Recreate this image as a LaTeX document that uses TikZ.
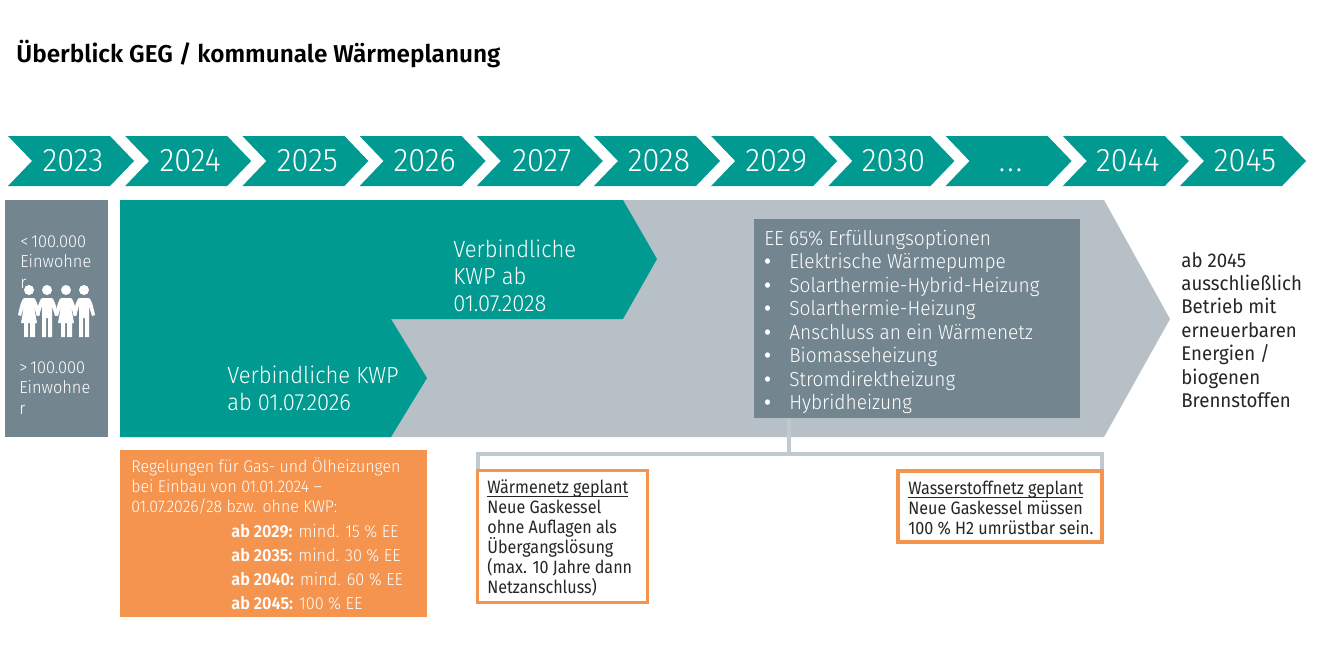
\documentclass[tikz,border=0pt]{standalone}
\usepackage{fontspec}
\setmainfont{Fira Sans}[UprightFont=* Light,BoldFont=* SemiBold,FakeStretch=0.94]
\newfontfamily\condfont{Fira Sans}[FakeStretch=0.9]
\newfontfamily\plainfont{Fira Sans}[FakeStretch=0.94]
\newfontfamily\titlefont{Fira Sans}[UprightFont=* SemiBold]
\usetikzlibrary{positioning}
\definecolor{kwpteal}{HTML}{009A90}
\definecolor{slate}{HTML}{73858F}
\definecolor{ashgrey}{HTML}{B7C0C6}
\definecolor{linkgrey}{HTML}{BFC9CE}
\definecolor{heatorange}{HTML}{F4944F}
\newcommand{\eeitem}[1]{\makebox[14.2pt][l]{\textbf{•}}#1}
\newcommand{\noteline}[1]{\underline{\smash{#1}}}
\def\gapdots{\vphantom{0}.\kern1.2pt.\kern1.2pt.}
\begin{document}
\begin{tikzpicture}[x=0.02cm,y=-0.02cm,
		yearlabel/.style={text=white,font=\fontsize{18.6}{20}\selectfont,inner sep=0pt},
		whitetext/.style={text=white,anchor=west,align=left,inner sep=0pt},
		kwptext/.style={whitetext,font=\fontsize{13.3}{15.3}\selectfont},
		eetext/.style={whitetext,font=\fontsize{11.57}{13.4}\selectfont},
		citytext/.style={whitetext,font=\fontsize{9.9}{11.8}\selectfont},
		regeltext/.style={whitetext,font=\fontsize{9.65}{11.6}\selectfont},
		notebox/.style={draw=heatorange,fill=white,anchor=north west,inner sep=0pt},
		notetext/.style={anchor=west,align=left,inner sep=0pt,text=black!85,font=\condfont\fontsize{10.2}{11.4}\selectfont},
		person/.style={fill=white,draw=none}]
	\useasboundingbox (0,0) rectangle (1344,667);
	\fill[white] (0,0) rectangle (1344,667);
	\node[anchor=base west,inner sep=0pt,font=\titlefont\fontsize{13.85}{16}\selectfont] (title) at (16,62) {Überblick GEG / kommunale Wärmeplanung};
	%% timeline
	\foreach \yr [count=\i from 0] in {2023,2024,2025,2026,2027,2028,2029,2030,\gapdots,2044,2045} {
		\fill[kwpteal] ({8+117.2*\i},136) -- ({110+117.2*\i},136) -- ({134+117.2*\i},161) -- ({110+117.2*\i},186) -- ({8+117.2*\i},186) -- ({32+117.2*\i},161) -- cycle;
		\node[yearlabel] (year\i) at ({73+117.2*\i},161) {\yr};
	}
	%% left box
	\fill[slate] (5,200) rectangle (108,437);
	\node[citytext] (small) at (20,262) {<\,100.000\\Einwohne\\r};
	\node[citytext] (large) at (19,388) {>\,100.000\\Einwohne\\r};
	%% people
	\foreach \px in {29,66} {
		\fill[person] (\px,290) circle (5);
		\fill[person] ({\px-5},298) -- ({\px+5},298) .. controls ({\px+7},299) and ({\px+9},305) .. ({\px+11},315) -- ({\px+8},316) -- ({\px+5},306) -- ({\px+8},323) -- ({\px+6},323) -- ({\px+6},337) -- ({\px+1},337) -- ({\px+1},323) -- ({\px-1},323) -- ({\px-1},337) -- ({\px-5},337) -- ({\px-5},323) -- ({\px-8},323) -- ({\px-5},306) -- ({\px-8},316) -- ({\px-11},315) .. controls ({\px-9},305) and ({\px-7},299) .. ({\px-5},298) -- cycle;
	}
	\foreach \px in {47,84} {
		\fill[person] (\px,290) circle (5);
		\fill[person] ({\px-5},298) -- ({\px+5},298) .. controls ({\px+7},299) and ({\px+9},305) .. ({\px+11},315) -- ({\px+8},316) -- ({\px+5},306) -- ({\px+5},337) -- ({\px+1},337) -- ({\px+1},318) -- ({\px-1},318) -- ({\px-1},337) -- ({\px-5},337) -- ({\px-5},306) -- ({\px-8},316) -- ({\px-11},315) .. controls ({\px-9},305) and ({\px-7},299) .. ({\px-5},298) -- cycle;
	}
	%% arrows
	\fill[ashgrey] (120,200) -- (1104,200) -- (1170,319) -- (1104,437) -- (120,437) -- cycle;
	\fill[kwpteal] (120,200) -- (623,200) -- (657,259) -- (623,319) -- (120,319) -- cycle;
	\fill[kwpteal] (120,319) -- (391,319) -- (427,378) -- (391,437) -- (120,437) -- cycle;
	\node[kwptext] (kwpa) at (453,276) {Verbindliche\\KWP ab\\01.07.2028};
	\node[kwptext] (kwpb) at (227,388) {Verbindliche KWP\\ab 01.07.2026};
	%% options
	\node[fill=slate,minimum width=326*0.02cm,minimum height=199*0.02cm,anchor=north west,inner sep=0pt] (ee) at (754,219) {};
	\node[eetext] (eelist) at (764,322) {EE 65\% Erfüllungsoptionen\\
		\eeitem{Elektrische Wärmepumpe}\\
		\eeitem{Solarthermie-Hybrid-Heizung}\\
		\eeitem{Solarthermie-Heizung}\\
		\eeitem{Anschluss an ein Wärmenetz}\\
		\eeitem{Biomasseheizung}\\
		\eeitem{Stromdirektheizung}\\
		\eeitem{Hybridheizung}};
	\node[anchor=west,align=left,inner sep=0pt,text=black!85,font=\plainfont\fontsize{11.3}{13.3}\selectfont] (final) at (1181,330) {ab 2045\\ausschließlich\\Betrieb mit\\erneuerbaren\\Energien /\\biogenen\\Brennstoffen};
	%% orange box
	\fill[heatorange] (120,450) rectangle (427,617);
	\node[regeltext] (regel) at (131,486) {Regelungen für Gas- und Ölheizungen\\bei Einbau von 01.01.2024 --\\01.07.2026/28 bzw. ohne KWP:};
	\node[whitetext,font=\fontsize{9.85}{13.6}\selectfont] (quota) at (231,567) {\textbf{ab 2029:} mind. 15 \% EE\\\textbf{ab 2035:} mind. 30 \% EE\\\textbf{ab 2040:} mind. 60 \% EE\\\textbf{ab 2045:} 100 \% EE};
	%% notes
	\node[notebox,line width=1.7pt,minimum width=170*0.02cm,minimum height=132*0.02cm] (waerme) at (476,469) {};
	\node[notebox,line width=2.2pt,minimum width=204*0.02cm,minimum height=71*0.02cm] (wasser) at (896,469) {};
	\node[notetext] (waermetext) at (487,545) {\noteline{Wärmenetz geplant}\\Neue Gaskessel\\ohne Auflagen als\\Übergangslösung\\(max. 10 Jahre dann\\Netzanschluss)};
	\node[notetext] (wassertext) at (908,515) {\noteline{Wasserstoffnetz geplant}\\Neue Gaskessel müssen\\100 \% H2 umrüstbar sein.};
	%% connectors
	\coordinate (branch) at (789,454);
	\coordinate (linkl) at ([xshift=0.04cm]waerme.north west);
	\coordinate (linkr) at ([xshift=-0.04cm]wasser.north east);
	\draw[linkgrey,line width=2.2pt] (ee.south -| branch) -- (branch);
	\draw[linkgrey,line width=2.2pt] (linkl) |- (branch) -| (linkr);
\end{tikzpicture}
\end{document}
